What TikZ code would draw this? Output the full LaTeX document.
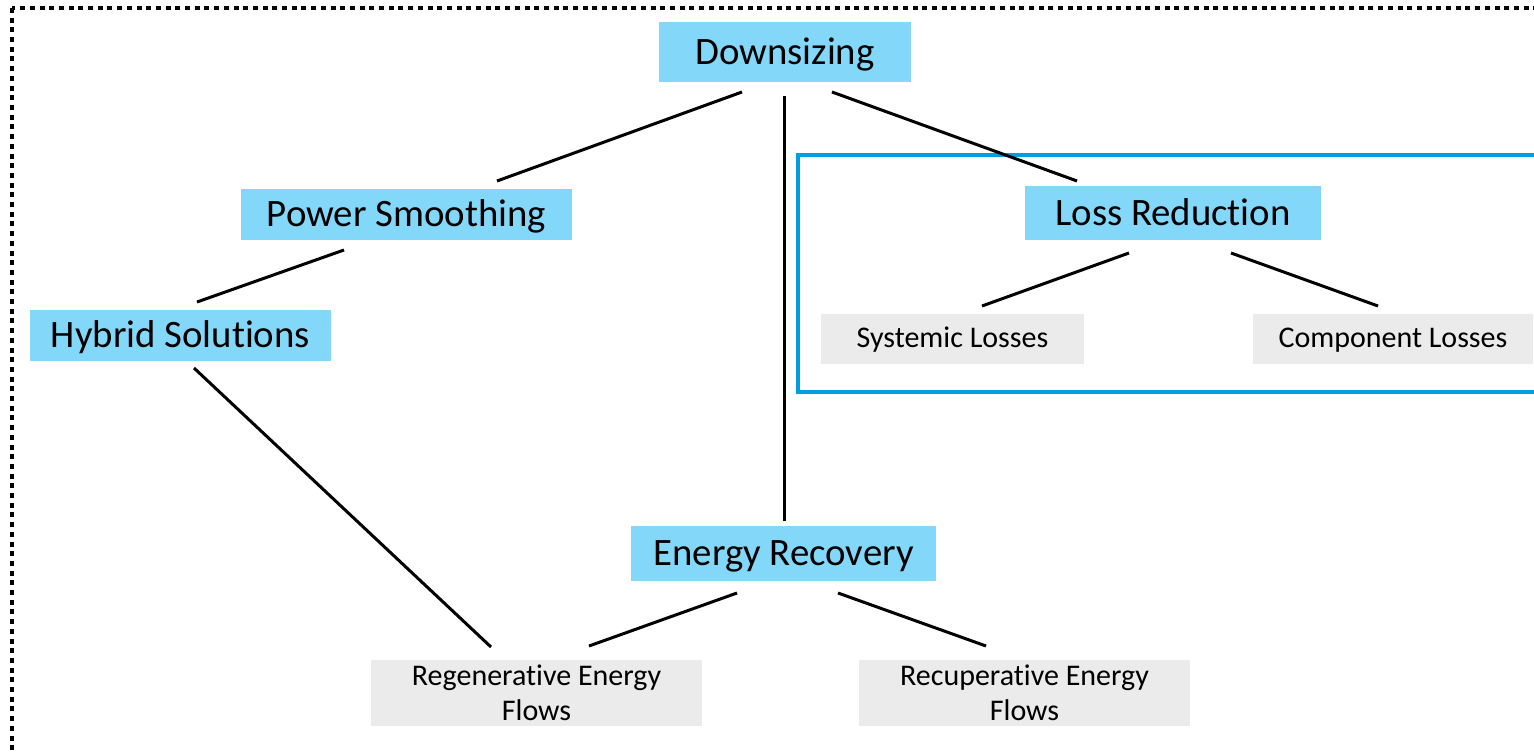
\documentclass[tikz,border=0pt]{standalone}
\usepackage{fontspec}
\setmainfont{Carlito}[Ligatures={NoCommon}]
\definecolor{nodeblue}{HTML}{83D7F8}
\definecolor{nodegray}{HTML}{EBEBEB}
\definecolor{framblue}{HTML}{00A0E0}
\begin{document}
\begin{tikzpicture}[x=1pt,y=-1pt,
  bigbox/.style={fill=nodeblue,inner sep=0pt,text height=27pt,text depth=2.5pt,font=\fontsize{38.8}{46}\selectfont},
  graybox/.style={fill=nodegray,inner sep=0pt,align=center,font=\fontsize{30}{35}\selectfont},
  smallbox/.style={graybox,text height=20pt,text depth=4pt},
  twolinebox/.style={graybox,yshift=-1.5pt},
  link/.style={line width=3pt,line cap=butt}]
\useasboundingbox (0,0) rectangle (1534,752);
\clip (0,0) rectangle (1534,752);
\fill[white] (0,0) rectangle (1534,752);
% outer dotted frame
\draw[line width=3.2pt,dash pattern=on 5pt off 4.7pt] (12,8) rectangle (1560,780);
% blue frame
\draw[framblue,line width=4pt] (798,155) rectangle (1560,392);
% nodes
\node[bigbox,minimum width=252pt,minimum height=60pt] (down) at (785,52) {Downsizing};
\node[bigbox,minimum width=331pt,minimum height=51pt] (power) at (406.5,214.5) {Power Smoothing};
\node[bigbox,minimum width=301pt,minimum height=51pt] (hybrid) at (180.5,335.5) {Hybrid Solutions};
\node[bigbox,minimum width=296pt,minimum height=54pt] (loss) at (1173,213) {Loss Reduction};
\node[bigbox,minimum width=305pt,minimum height=55pt] (energy) at (783.5,553.5) {Energy Recovery};
\node[smallbox,minimum width=263pt,minimum height=50pt] (sys) at (952.5,339) {Systemic Losses};
\node[smallbox,minimum width=280pt,minimum height=50pt] (comp) at (1393,339) {Component Losses};
\node[twolinebox,minimum width=331pt,minimum height=66pt] (regen) at (536.5,691.5) {Regenerative Energy\\Flows};
\node[twolinebox,minimum width=331pt,minimum height=66pt] (recup) at (1024.5,691.5) {Recuperative Energy\\Flows};
% connector end points
\coordinate (d1) at (742,92);   \coordinate (p1) at (497,181);
\coordinate (d2) at (784,96);   \coordinate (e1) at (784,521);
\coordinate (d3) at (832,92);   \coordinate (l1) at (1077,181);
\coordinate (p2) at (344,250);  \coordinate (h1) at (197,302);
\coordinate (h2) at (194,368);  \coordinate (r1) at (491,647);
\coordinate (l2) at (1129,253); \coordinate (s1) at (982,306);
\coordinate (l3) at (1231,253); \coordinate (c1) at (1378,306);
\coordinate (e2) at (737,593);  \coordinate (r2) at (589,646);
\coordinate (e3) at (838,593);  \coordinate (u1) at (986,646);
\draw[link] (d1) -- (p1);
\draw[link] (d2) -- (e1);
\draw[link] (d3) -- (l1);
\draw[link] (p2) -- (h1);
\draw[link] (h2) -- (r1);
\draw[link] (l2) -- (s1);
\draw[link] (l3) -- (c1);
\draw[link] (e2) -- (r2);
\draw[link] (e3) -- (u1);
\end{tikzpicture}
\end{document}
